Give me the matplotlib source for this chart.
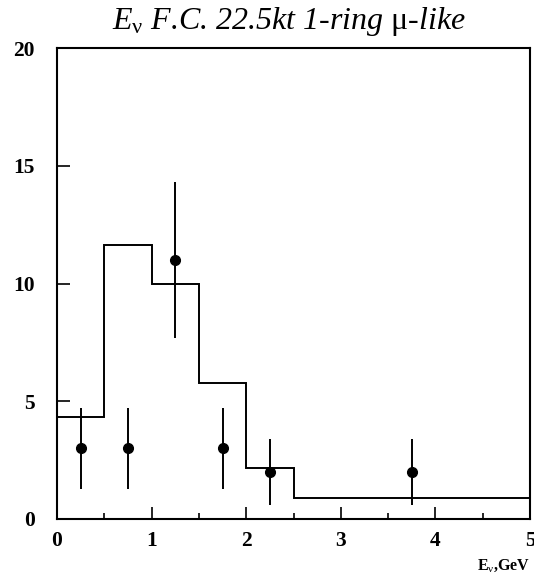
import matplotlib
matplotlib.use("Agg")
import matplotlib.pyplot as plt
import numpy as np

plt.rcParams['mathtext.fontset'] = 'custom'
plt.rcParams['mathtext.rm'] = 'Liberation Serif'
plt.rcParams['mathtext.it'] = 'Liberation Serif:italic'
plt.rcParams['mathtext.bf'] = 'Liberation Serif:bold'
plt.rcParams['font.family'] = ['Liberation Serif', 'DejaVu Serif']

# Monte Carlo histogram (bin edges and contents)
mc_edges = [0.0, 0.5, 1.0, 1.5, 2.0, 2.5, 5.0]
mc_counts = [4.35, 11.62, 10.0, 5.77, 2.18, 0.90]

# Data points
data_x = [0.25, 0.75, 1.25, 1.75, 2.25, 3.75]
data_y = [3, 3, 11, 3, 2, 2]
data_err = [1.73, 1.73, 3.32, 1.73, 1.41, 1.41]

x_ticks = [0, 1, 2, 3, 4, 5]
y_ticks = [0, 5, 10, 15, 20]

fig = plt.figure(figsize=(5.34, 5.73), dpi=100)
ax = fig.add_axes([57/534, 1-519/573, (530-57)/534, (519-48)/573])

ax.stairs(mc_counts, mc_edges, color='black', linewidth=1.4, baseline=None)
ax.errorbar(data_x, data_y, yerr=data_err, fmt='o', color='black',
            markersize=7, elinewidth=1.4, capsize=0)

ax.set_xlim(0, 5)
ax.set_ylim(0, 20)
ax.set_xticks(x_ticks)
ax.set_xticks(np.arange(0.5, 5, 1.0), minor=True)
ax.set_yticks(y_ticks)
ax.tick_params(axis='both', which='major', direction='in', length=9, width=1.2,
               labelsize=15.5, top=False, right=False)
ax.tick_params(axis='x', which='minor', direction='in', length=4.5, width=1.2)
ax.tick_params(axis='x', pad=9)
ax.tick_params(axis='y', pad=16)
for lab in ax.get_xticklabels() + ax.get_yticklabels():
    lab.set_fontweight('bold')
for sp in ax.spines.values():
    sp.set_linewidth(1.5)

fig.text(0.541, 0.963, r'$\mathit{E}_{\mathrm{\nu}}$ F.C. 22.5kt 1-ring $\mathrm{\mu}$-like',
         ha='center', va='center', fontsize=23, fontstyle='italic')
fig.text(0.993, 0.013, r'$\mathbf{E}_{\mathrm{\nu}}$,GeV', ha='right', va='center',
         fontsize=11.5, fontweight='bold')

fig.savefig('out.png', dpi=100)
